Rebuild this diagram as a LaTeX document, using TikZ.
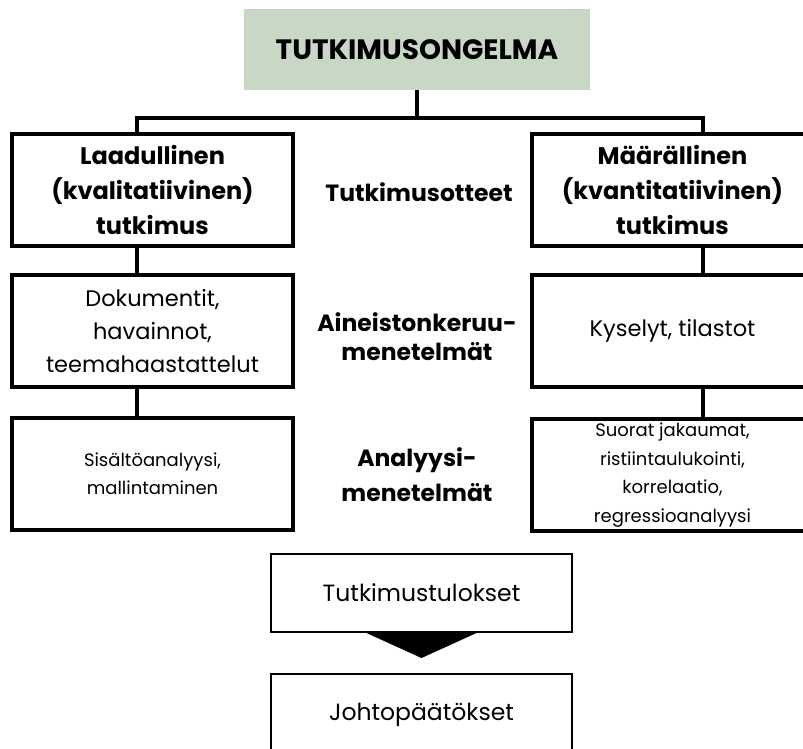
\documentclass[tikz,border=0pt]{standalone}
\usepackage{fontspec}
\setmainfont{Poppins}
\usetikzlibrary{calc}
\definecolor{sage}{RGB}{200,216,196}
\begin{document}
\begin{tikzpicture}[x=1pt,y=-1pt,
  box/.style={draw,line width=4pt,minimum width=281pt,minimum height=112pt,align=center,inner sep=0pt},
  lowbox/.style={draw,line width=2pt,minimum width=301pt,minimum height=78pt,align=center,inner sep=0pt},
  conn/.style={line width=3.5pt},
  headf/.style={font=\fontsize{24}{35}\selectfont\bfseries},
  bodyf/.style={font=\fontsize{22.5}{33}\selectfont},
  smallf/.style={font=\fontsize{18}{28.5}\selectfont},
  midf/.style={font=\fontsize{23.5}{29}\selectfont\bfseries,align=center}]
\useasboundingbox (0,0) rectangle (803,749);
\clip (0,0) rectangle (803,749);
% top problem box
\node[fill=sage,minimum width=346pt,minimum height=81pt,inner sep=0pt,
      font=\fontsize{28}{32}\selectfont\bfseries] (top) at (417,49.5) {TUTKIMUSONGELMA};
% level 1
\node[box,headf] (L1) at (152.5,190) {Laadullinen\\(kvalitatiivinen)\\tutkimus};
\node[box,headf] (R1) at (672.5,190) {Määrällinen\\(kvantitatiivinen)\\tutkimus};
% level 2
\node[box,bodyf] (L2) at (152.5,331) {Dokumentit,\\havainnot,\\teemahaastattelut};
\node[box,bodyf] (R2) at (672.5,331) {Kyselyt, tilastot};
% level 3
\node[box,smallf] (L3) at (152.5,473.5) {Sisältöanalyysi,\\mallintaminen};
\node[box,smallf] (R3) at (672.5,475) {Suorat jakaumat,\\ristiintaulukointi,\\korrelaatio,\\regressioanalyysi};
% middle labels
\node[midf] (m1) at (419,192) {Tutkimusotteet};
\node[midf] (m2) at (417,337) {Aineistonkeruu-\\menetelmät};
\node[midf,font=\fontsize{23.5}{35}\selectfont\bfseries] (m3) at (417,475) {Analyysi-\\menetelmät};
% results
\node[lowbox,font=\fontsize{23.5}{28}\selectfont] (T) at (421.5,593) {Tutkimustulokset};
\node[lowbox,minimum height=82pt,font=\fontsize{23.5}{28}\selectfont] (J) at (421.5,715) {Johtopäätökset};
% connectors
\coordinate (lx) at (137,0);
\coordinate (rx) at (703,0);
\coordinate (bar) at (0,118);
\draw[conn] (top.south) -- (top.south |- bar);
\draw[conn] (L1.north -| lx) -- (lx |- bar) -- (rx |- bar) -- (R1.north -| rx);
\draw[conn] (L1.south -| lx) -- (L2.north -| lx);
\draw[conn] (L2.south -| lx) -- (L3.north -| lx);
\draw[conn] (R1.south -| rx) -- (R2.north -| rx);
\draw[conn] (R2.south -| rx) -- (R3.north -| rx);
% arrow between results and conclusions
\fill ($(T.south)+(-55,0)$) -- ($(T.south)+(55,0)$) -- ($(T.south)+(0,25)$) -- cycle;
\end{tikzpicture}
\end{document}
